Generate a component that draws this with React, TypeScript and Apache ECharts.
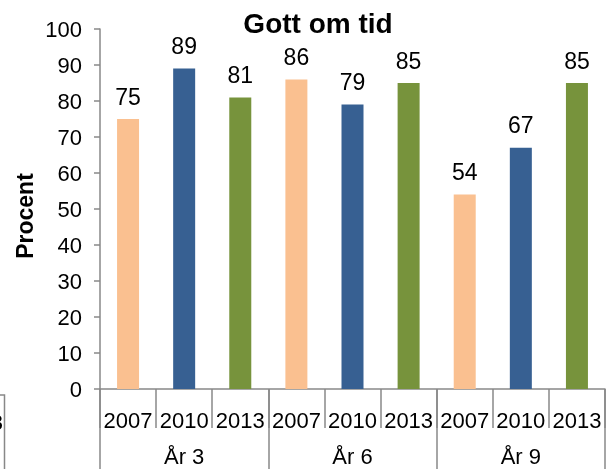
import React, { useEffect, useRef } from "react";
import * as echarts from "echarts";

const years = ["2007", "2010", "2013", "2007", "2010", "2013", "2007", "2010", "2013"];
const groups = ["År 3", "År 6", "År 9"];
const values = [75, 89, 81, 86, 79, 85, 54, 67, 85];
const yearColors = ["#FAC090", "#376092", "#77933C"];
const title = "Gott om tid";
const yName = "Procent";

const FONT = "'Liberation Sans', Arial, sans-serif";
const AXIS = "#888888";

export default function App() {
  const ref = useRef<HTMLDivElement>(null);
  useEffect(() => {
    if (!ref.current) return;
    const chart = echarts.init(ref.current, undefined, { renderer: "svg" });
    chart.setOption({
      animation: false,
      textStyle: { fontFamily: FONT },
      grid: { left: 100, right: 11, top: 29, bottom: 80, containLabel: false },
      graphic: [
        {
          type: "text",
          x: 318,
          y: 23,
          style: {
            text: title,
            font: `bold 28px ${FONT}`,
            fill: "#000",
            align: "center",
            verticalAlign: "middle",
          },
        },
        {
          type: "text",
          x: 25,
          y: 216,
          rotation: Math.PI / 2,
          style: {
            text: yName,
            font: `bold 23px ${FONT}`,
            fill: "#000",
            align: "center",
            verticalAlign: "middle",
          },
        },
        {
          type: "text",
          x: 3,
          y: 422,
          style: {
            text: "2013",
            font: `22px ${FONT}`,
            fill: "#000",
            align: "right",
            verticalAlign: "middle",
          },
        },
        {
          type: "polyline",
          shape: { points: [[0, 395], [4.5, 395], [4.5, 469]] },
          style: { stroke: AXIS, lineWidth: 1.5, fill: null },
        },
      ],
      xAxis: [
        {
          type: "category",
          data: years,
          position: "bottom",
          axisLine: { show: true, lineStyle: { color: AXIS, width: 1.5 } },
          axisTick: { show: true, interval: 0, length: 39, lineStyle: { color: AXIS, width: 1.5 } },
          axisLabel: { interval: 0, fontSize: 22, color: "#000", margin: 20, fontFamily: FONT },
        },
        {
          type: "category",
          data: groups,
          position: "bottom",
          axisLine: { show: false },
          axisTick: { show: true, interval: 0, length: 80, lineStyle: { color: AXIS, width: 1.5 } },
          axisLabel: { interval: 0, fontSize: 22, color: "#000", margin: 56, fontFamily: FONT },
        },
      ],
      yAxis: {
        type: "value",
        min: 0,
        max: 100,
        interval: 10,
        axisLine: { show: true, lineStyle: { color: AXIS, width: 1.5 } },
        axisTick: { show: true, length: 6, lineStyle: { color: AXIS, width: 1.5 } },
        axisLabel: { fontSize: 22, color: "#000", margin: 18, fontFamily: FONT },
        splitLine: { show: false },
      },
      series: [
        {
          type: "bar",
          xAxisIndex: 0,
          barWidth: 22,
          data: values.map((v, i) => ({ value: v, itemStyle: { color: yearColors[i % 3] } })),
          label: {
            show: true,
            position: "top",
            distance: 11,
            fontSize: 23,
            color: "#000",
            fontFamily: FONT,
          },
        },
      ],
    });
    return () => chart.dispose();
  }, []);
  return <div ref={ref} style={{ width: 616, height: 469, position: "fixed", left: 0, top: 0 }} />;
}
